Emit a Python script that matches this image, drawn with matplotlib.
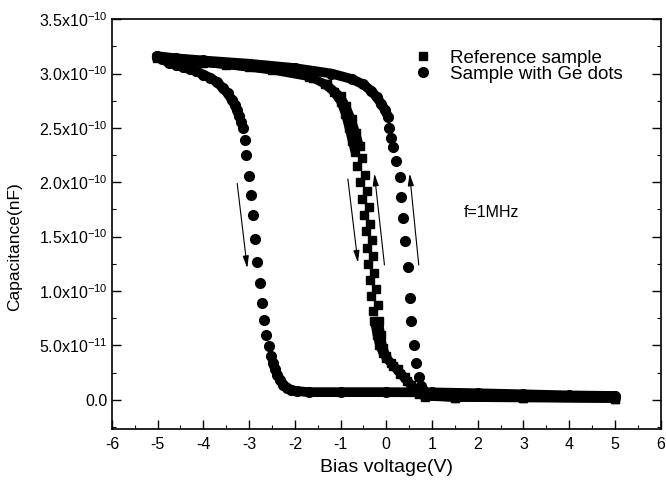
import numpy as np
import matplotlib.pyplot as plt
from matplotlib.ticker import MultipleLocator, FixedLocator

plt.rcParams['font.family'] = ['Liberation Sans', 'DejaVu Sans']
plt.rcParams['mathtext.fontset'] = 'custom'
plt.rcParams['mathtext.rm'] = 'Liberation Sans'
plt.rcParams['mathtext.it'] = 'Liberation Sans:italic'
plt.rcParams['mathtext.bf'] = 'Liberation Sans:bold'

# ----------------------------
# Data (capacitance in units of 1e-10 F)
# ----------------------------

# Sample with Ge dots, sweep -5 V -> +5 V
ge_fwd_top_v = [-5.02, -4.9, -4.75, -4.6, -4.45, -4.3, -4.15, -4.0, -3.85, -3.7, -3.58, -3.47, -3.38, -3.31, -3.26, -3.22]
ge_fwd_top_c = [3.15, 3.13, 3.10, 3.08, 3.06, 3.04, 3.02, 2.99, 2.96, 2.92, 2.87, 2.82, 2.76, 2.71, 2.66, 2.61]
ge_fwd_drop_v = [-3.17, -3.14, -3.10, -3.06, -3.01, -2.96, -2.91, -2.87, -2.82, -2.77, -2.72, -2.67, -2.62, -2.57, -2.52]
ge_fwd_drop_c = [2.55, 2.50, 2.39, 2.25, 2.06, 1.88, 1.70, 1.48, 1.27, 1.07, 0.89, 0.73, 0.60, 0.49, 0.40]
ge_fwd_bot_v = [-2.48, -2.43, -2.38, -2.32, -2.25, -2.17, -2.08, -1.95, -1.7, -1.0, 0.0, 1.0, 2.0, 3.0, 4.0, 5.0]
ge_fwd_bot_c = [0.34, 0.28, 0.23, 0.18, 0.14, 0.11, 0.09, 0.08, 0.07, 0.07, 0.07, 0.068, 0.06, 0.05, 0.04, 0.035]

# Sample with Ge dots, sweep +5 V -> -5 V
ge_ret_bot_v = [5.0, 4.0, 3.0, 2.0, 1.0, 0.88, 0.80, 0.76]
ge_ret_bot_c = [0.03, 0.035, 0.04, 0.045, 0.05, 0.06, 0.09, 0.13]
ge_ret_rise_v = [0.71, 0.66, 0.60, 0.55, 0.51, 0.47, 0.41, 0.36, 0.33, 0.29, 0.22, 0.15, 0.11, 0.07]
ge_ret_rise_c = [0.21, 0.34, 0.50, 0.72, 0.94, 1.22, 1.46, 1.67, 1.86, 2.05, 2.20, 2.32, 2.41, 2.50]
ge_ret_top_v = [0.04, -0.02, -0.11, -0.2, -0.33, -0.5, -0.76, -1.2, -2.0, -3.0, -4.0, -4.6, -5.02]
ge_ret_top_c = [2.60, 2.66, 2.72, 2.78, 2.84, 2.90, 2.95, 3.00, 3.05, 3.09, 3.12, 3.14, 3.16]

# Reference sample, sweep -5 V -> +5 V
ref_fwd_top_v = [-5.02, -4.0, -3.0, -2.0, -1.6, -1.35, -1.15, -1.0, -0.9, -0.82, -0.75, -0.69]
ref_fwd_top_c = [3.14, 3.10, 3.06, 3.01, 2.96, 2.90, 2.83, 2.74, 2.63, 2.50, 2.38, 2.28]
ref_fwd_drop_v = [-0.63, -0.57, -0.52, -0.48, -0.45, -0.42, -0.39, -0.36, -0.33, -0.29]
ref_fwd_drop_c = [2.15, 2.00, 1.85, 1.70, 1.55, 1.40, 1.25, 1.10, 0.95, 0.82]
ref_fwd_bot_v = [-0.26, -0.21, -0.15, -0.08, 0.0, 0.15, 0.3, 0.45, 0.6, 0.72, 0.85, 1.5, 3.0, 5.0]
ref_fwd_bot_c = [0.72, 0.60, 0.50, 0.43, 0.38, 0.31, 0.24, 0.17, 0.10, 0.05, 0.03, 0.02, 0.02, 0.01]

# Reference sample, sweep +5 V -> -5 V
ref_ret_bot_v = [5.0, 3.0, 1.5, 0.85, 0.7, 0.55, 0.4, 0.25, 0.1, 0.0, -0.07, -0.12, -0.16]
ref_ret_bot_c = [0.01, 0.015, 0.02, 0.035, 0.07, 0.14, 0.21, 0.28, 0.34, 0.40, 0.48, 0.60, 0.72]
ref_ret_rise_v = [-0.19, -0.22, -0.26, -0.29, -0.32, -0.35, -0.38, -0.42, -0.47, -0.53]
ref_ret_rise_c = [0.87, 1.02, 1.17, 1.32, 1.47, 1.62, 1.77, 1.92, 2.07, 2.22]
ref_ret_top_v = [-0.58, -0.66, -0.76, -0.88, -1.0, -1.3, -1.7, -2.5, -3.5, -4.5, -5.02]
ref_ret_top_c = [2.33, 2.45, 2.58, 2.70, 2.79, 2.90, 2.97, 3.03, 3.08, 3.12, 3.15]

# sweep direction arrows: (tail V, tail C, head V, head C)
arrows = [(-3.26, 1.99, -3.04, 1.21),
          (-0.84, 2.03, -0.62, 1.26),
          (-0.04, 1.24, -0.26, 2.08),
          (0.71, 1.24, 0.51, 2.08)]

y_ticks = [0.0, 0.5, 1.0, 1.5, 2.0, 2.5, 3.0, 3.5]
y_tick_labels = ['0.0', r'5.0x10$^{-11}$', r'1.0x10$^{-10}$', r'1.5x10$^{-10}$',
                 r'2.0x10$^{-10}$', r'2.5x10$^{-10}$', r'3.0x10$^{-10}$', r'3.5x10$^{-10}$']
x_ticks = [-6, -5, -4, -3, -2, -1, 0, 1, 2, 3, 4, 5, 6]

# ----------------------------
# Plot
# ----------------------------

fig = plt.figure(figsize=(6.66, 4.91), dpi=100)
ax = fig.add_axes([0.168, 0.126, 0.824, 0.835])

CIRC = 7.0
SQ = 6.0


def band(v, c, marker, size):
    # dense measurement points -> continuous thick band
    ax.plot(v, np.array(c) * 1e-10, color='k', lw=size, marker=marker, ms=size,
            solid_capstyle='round', solid_joinstyle='round')


def dots(v, c, marker, size, label=None):
    ax.plot(v, np.array(c) * 1e-10, ls='none', color='k', marker=marker, ms=size,
            label=label)


band(ref_fwd_top_v, ref_fwd_top_c, 's', SQ)
dots(ref_fwd_drop_v, ref_fwd_drop_c, 's', SQ, 'Reference sample')
band(ref_fwd_bot_v, ref_fwd_bot_c, 's', SQ)
band(ref_ret_bot_v, ref_ret_bot_c, 's', SQ)
dots(ref_ret_rise_v, ref_ret_rise_c, 's', SQ)
band(ref_ret_top_v, ref_ret_top_c, 's', SQ)

band(ge_fwd_top_v, ge_fwd_top_c, 'o', CIRC)
dots(ge_fwd_drop_v, ge_fwd_drop_c, 'o', CIRC, 'Sample with Ge dots')
band(ge_fwd_bot_v, ge_fwd_bot_c, 'o', CIRC)
band(ge_ret_bot_v, ge_ret_bot_c, 'o', CIRC)
dots(ge_ret_rise_v, ge_ret_rise_c, 'o', CIRC)
band(ge_ret_top_v, ge_ret_top_c, 'o', CIRC)

for tv, tc, hv, hc in arrows:
    ax.annotate('', xy=(hv, hc * 1e-10), xytext=(tv, tc * 1e-10),
                arrowprops=dict(arrowstyle='-|>,head_length=0.6,head_width=0.15',
                                mutation_scale=12, lw=0.8, color='k',
                                shrinkA=0, shrinkB=0))

ax.text(1.70, 1.72e-10, 'f=1MHz', fontsize=11.5, ha='left', va='center')

ax.set_xlim(-6, 6)
ax.set_ylim(-0.27e-10, 3.5e-10)
ax.xaxis.set_major_locator(FixedLocator(x_ticks))
ax.xaxis.set_minor_locator(MultipleLocator(0.5))
ax.yaxis.set_major_locator(FixedLocator([t * 1e-10 for t in y_ticks]))
ax.yaxis.set_minor_locator(MultipleLocator(0.25e-10))
ax.set_yticklabels(y_tick_labels)
ax.set_xticklabels([str(t) for t in x_ticks])

ax.tick_params(which='both', direction='in', right=True, top=False, labelsize=11.5)
ax.tick_params(which='major', length=6.5, width=1.0)
ax.tick_params(which='minor', length=3.2, width=0.8)
ax.tick_params(axis='x', pad=6)
ax.tick_params(axis='y', pad=3)
for s in ax.spines.values():
    s.set_linewidth(1.2)

ax.set_xlabel('Bias voltage(V)', fontsize=14, labelpad=5)
ax.set_ylabel('Capacitance(nF)', fontsize=12.5)
ax.yaxis.set_label_coords(-0.164, 0.446)

ax.legend(loc='upper left', bbox_to_anchor=(0.519, 0.967), frameon=False,
          fontsize=13.5, numpoints=1, handlelength=1.0, handletextpad=0.95,
          labelspacing=-0.05, borderpad=0.4)

fig.savefig('out.png', dpi=100)
